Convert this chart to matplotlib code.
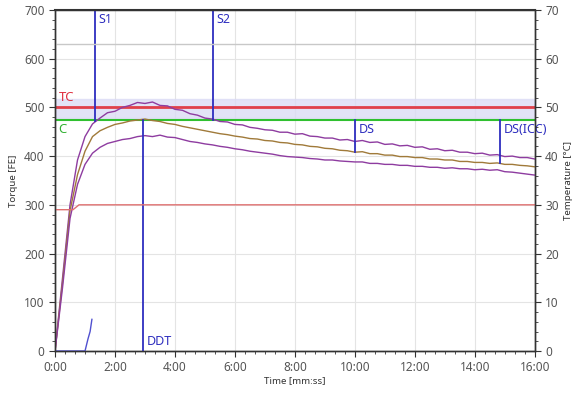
import numpy as np
import matplotlib
matplotlib.use('Agg')
import matplotlib.pyplot as plt
from matplotlib.ticker import MultipleLocator, FuncFormatter

plt.rcParams['font.family'] = ['Noto Sans', 'DejaVu Sans']

# 数据（从图中读取，单位：分钟）
t = np.arange(0, 16.01, 0.25)

torque_upper = [0, 150, 300, 392, 440, 466, 478, 489, 492, 500, 504, 510, 508, 511, 504, 503,
                496, 494, 487, 484, 478, 476, 471, 470, 465, 464, 459, 457, 454, 453, 449, 449,
                445, 446, 441, 440, 437, 437, 433, 434, 430, 432, 428, 429, 424, 425, 421, 422,
                418, 419, 414, 415, 411, 412, 408, 408, 405, 406, 402, 403, 399, 400, 397, 397, 394]
torque_mid = [0, 140, 288, 362, 410, 440, 452, 459, 465, 468, 472, 474, 476, 473, 471, 467,
              465, 461, 458, 455, 452, 449, 446, 444, 441, 439, 436, 435, 432, 431, 428, 427,
              424, 423, 420, 419, 416, 415, 412, 411, 408, 409, 405, 405, 402, 402, 399, 399,
              397, 397, 394, 394, 392, 392, 389, 389, 387, 387, 385, 386, 383, 383, 381, 380, 378]
torque_lower = [0, 130, 272, 342, 383, 406, 418, 426, 430, 434, 436, 440, 442, 440, 443, 439,
                438, 434, 430, 428, 425, 423, 420, 418, 415, 413, 410, 408, 406, 404, 401, 399,
                398, 397, 395, 394, 392, 392, 390, 389, 388, 388, 385, 385, 383, 383, 381, 381,
                379, 379, 377, 377, 375, 376, 374, 374, 372, 373, 371, 372, 368, 367, 365, 363, 361]

# 温度（右轴）
temp_t = [0, 0.6, 0.8, 16]
temp_val = [29, 29, 30, 30]
grey_t = [0, 16]
grey_val = [63, 63]

# 小蓝色曲线
blue_t = [0, 1.0, 1.1, 1.17, 1.23]
blue_val = [0, 0, 25, 40, 65]

# 限值
tc_value = 500
tc_band = (478, 518)
c_value = 475

# 竖线标记
marker_labels = ['S1', 'S2', 'DDT', 'DS', 'DS(ICC)']
marker_times = [1.33, 5.27, 2.93, 10.0, 14.83]
marker_low = [472, 475, 0, 408, 386]
marker_high = [700, 700, 475, 475, 475]
label_y = [680, 680, 20, 455, 455]

tick_color = '#555555'
purple = '#8e3ca0'
olive = '#a07a3a'
blue = '#2e2ebf'

fig = plt.figure(figsize=(5.75, 3.96), dpi=100)
ax = fig.add_axes([0.0957, 0.1136, 0.8343, 0.8614])
ax2 = ax.twinx()

ax.axhspan(tc_band[0], tc_band[1], color='#dcdcf5', alpha=0.8, zorder=1)
ax.axhline(tc_value, color='#e0404a', lw=2, zorder=2)
ax.axhline(c_value, color='#30c030', lw=1.5, zorder=2)

ax.plot(t, torque_upper, color=purple, lw=1, zorder=4)
ax.plot(t, torque_mid, color=olive, lw=1, zorder=4)
ax.plot(t, torque_lower, color=purple, lw=1, zorder=4)
ax.plot(blue_t, blue_val, color='#5050d0', lw=1, zorder=4)

ax2.plot(temp_t, temp_val, color='#e07070', lw=1)
ax2.plot(grey_t, grey_val, color='#c8c8c8', lw=1)

for name, tm, lo, hi, ly in zip(marker_labels, marker_times, marker_low, marker_high, label_y):
    ax.plot([tm, tm], [lo, hi], color=blue, lw=1.3, zorder=5)
    ax.text(tm + 0.12, ly, name, color=blue, fontsize=9, fontweight='bold',
            va='center', ha='left', zorder=6)

ax.text(0.12, 520, 'TC', color='#e03040', fontsize=9.5, va='center')
ax.text(0.12, 455, 'C', color='#30b030', fontsize=9.5, va='center')

ax.set_xlim(0, 16)
ax.set_ylim(0, 700)
ax2.set_ylim(0, 70)

ax.xaxis.set_major_locator(MultipleLocator(2))
ax.xaxis.set_minor_locator(MultipleLocator(1 / 3))
ax.xaxis.set_major_formatter(FuncFormatter(lambda v, p: '%d:00' % int(round(v))))
ax.yaxis.set_major_locator(MultipleLocator(100))
ax.yaxis.set_minor_locator(MultipleLocator(20))
ax2.yaxis.set_major_locator(MultipleLocator(10))
ax2.yaxis.set_minor_locator(MultipleLocator(2))

ax.grid(True, color='#e4e4e4', lw=0.8)
ax.set_axisbelow(True)

for a in (ax, ax2):
    a.tick_params(which='both', direction='out', colors='#333333', labelcolor=tick_color, labelsize=8.5)
    a.tick_params(which='major', length=4)
    a.tick_params(which='minor', length=2)
    for s in a.spines.values():
        s.set_color('#333333')
        s.set_linewidth(1)
ax.spines['top'].set_linewidth(1.5)

ax.set_xlabel('Time [mm:ss]', fontsize=7, color='#333333', labelpad=1)
ax.set_ylabel('Torque [FE]', fontsize=7, color='#333333', labelpad=4)
ax2.set_ylabel('Temperature [°C]', fontsize=7, color='#333333', labelpad=4)

plt.savefig('out.png', dpi=100)
